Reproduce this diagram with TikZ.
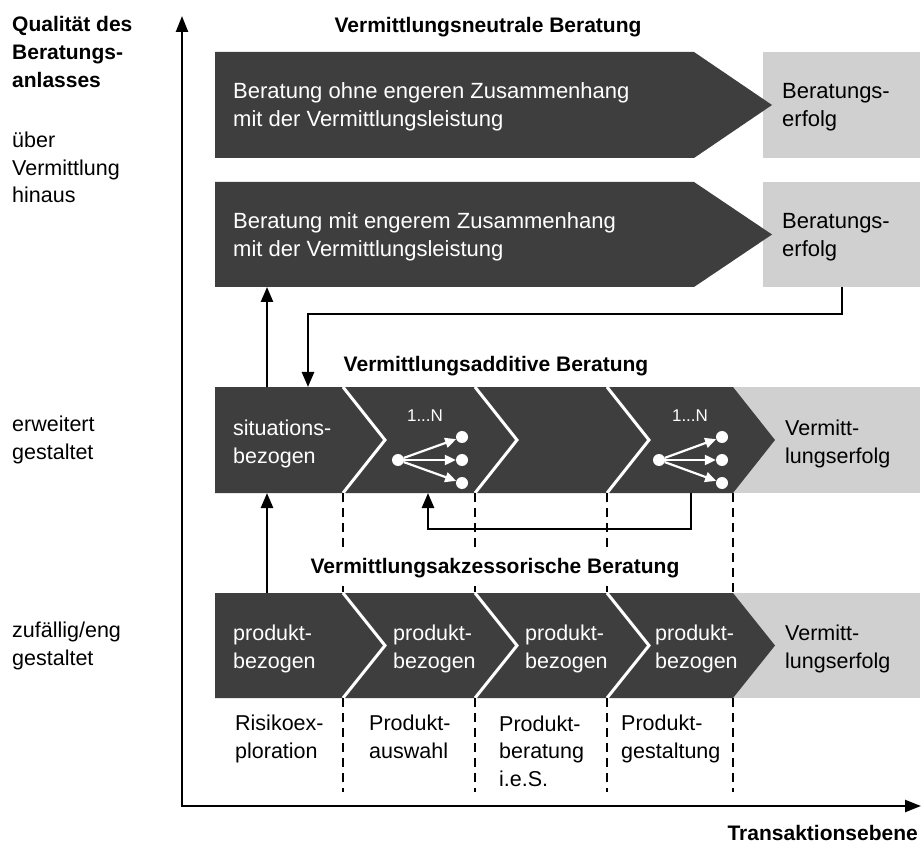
\documentclass[tikz,border=0pt]{standalone}
\usepackage{fontspec}
\setmainfont{Liberation Sans}
\usetikzlibrary{arrows.meta}
\definecolor{boxdark}{RGB}{62,62,62}
\definecolor{boxlight}{RGB}{208,208,208}
\begin{document}
\begin{tikzpicture}[x=1pt,y=-1pt,
  % multi-line texts are anchored at the baseline of their last line
  txt/.style={inner sep=0pt, anchor=base west, align=left, font=\fontsize{21.5}{27.5}\selectfont},
  bigtxt/.style={txt, font=\fontsize{22}{28}\selectfont},
  wtxt/.style={txt, text=white},
  headlbl/.style={inner sep=0pt, anchor=base, font=\bfseries\fontsize{21}{28}\selectfont},
  axislbl/.style={inner sep=0pt, anchor=base west, align=left, font=\bfseries\fontsize{21}{28}\selectfont},
  sep/.style={draw=white, line width=3pt, line join=miter},
  conn/.style={draw=black, line width=2.5pt, -{Triangle[length=15pt,width=12pt]}},
  phase/.style={draw=black, line width=2.6pt, dash pattern=on 9pt off 6pt},
  fanarrow/.style={draw=white, line width=2.2pt, -{Triangle[length=11pt,width=10pt]}},
  dot/.style={circle, fill=white, inner sep=0pt, minimum size=12pt},
  countlbl/.style={inner sep=0pt, anchor=base, text=white, font=\fontsize{17}{20}\selectfont},
  ]
\useasboundingbox (0,0) rectangle (922,845);

% ---------- axes ----------
\coordinate (ytop) at (182,16);
\coordinate (origin) at (182,806);
\coordinate (xend) at (921,806);
\draw[line width=2.4pt, {Triangle[length=16pt,width=12pt]}-{Triangle[length=16pt,width=12pt]}]
  (ytop) -- (origin) -- (xend);

% ---------- row 1: neutral advice ----------
\fill[boxlight] (763,52) rectangle (920,158);
\fill[boxdark] (215,52) -- (694,52) -- (772,105) -- (694,158) -- (215,158) -- cycle;
\node[bigtxt, text=white] (t1) at (233,127) {Beratung ohne engeren Zusammenhang\\mit der Vermittlungsleistung};
\node[bigtxt] (e1) at (782,127) {Beratungs-\\erfolg};

% ---------- row 2 ----------
\fill[boxlight] (763,182) rectangle (920,287);
\fill[boxdark] (215,182) -- (694,182) -- (772,234.5) -- (694,287) -- (215,287) -- cycle;
\node[bigtxt, text=white] (t2) at (233,257) {Beratung mit engerem Zusammenhang\\mit der Vermittlungsleistung};
\node[bigtxt] (e2) at (782,257) {Beratungs-\\erfolg};

% ---------- row 3: additive advice ----------
\fill[boxlight] (733,387) rectangle (920,493);
\fill[boxdark] (215,387) -- (733,387) -- (775,440) -- (733,493) -- (215,493) -- cycle;
\foreach \b in {343,475,607}
  \draw[sep] (\b,387) -- (\b+42,440) -- (\b,493);
\node[wtxt] (s1) at (233,463) {situations-\\bezogen};
\node[txt] (e3) at (785,463) {Vermitt-\\lungserfolg};

% fan icons
\node[countlbl] (n1) at (425,421) {1...N};
\node[dot] (f1s) at (398,460) {};
\node[dot] (f1a) at (462,437) {};
\node[dot] (f1b) at (462,460) {};
\node[dot] (f1c) at (462,483) {};
\draw[fanarrow] (f1s) -- (f1a);
\draw[fanarrow] (f1s) -- (f1b);
\draw[fanarrow] (f1s) -- (f1c);

\node[countlbl] (n2) at (690,421) {1...N};
\node[dot] (f2s) at (659,460) {};
\node[dot] (f2a) at (722,437) {};
\node[dot] (f2b) at (722,460) {};
\node[dot] (f2c) at (722,483) {};
\draw[fanarrow] (f2s) -- (f2a);
\draw[fanarrow] (f2s) -- (f2b);
\draw[fanarrow] (f2s) -- (f2c);

% ---------- row 4: accessory advice ----------
\fill[boxlight] (733,593) rectangle (920,698);
\fill[boxdark] (215,593) -- (733,593) -- (775,645.5) -- (733,698) -- (215,698) -- cycle;
\foreach \b in {343,475,607}
  \draw[sep] (\b,593) -- (\b+42,645.5) -- (\b,698);
\node[wtxt] (p1) at (233,668) {produkt-\\bezogen};
\node[wtxt] (p2) at (393,668) {produkt-\\bezogen};
\node[wtxt] (p3) at (525,668) {produkt-\\bezogen};
\node[wtxt] (p4) at (655,668) {produkt-\\bezogen};
\node[txt] (e4) at (785,668) {Vermitt-\\lungserfolg};

% phase boundaries
\foreach \b in {343,475,607,733} {
  \draw[phase] (\b,493) -- (\b,593);
  \draw[phase] (\b,698) -- (\b,792);
}

% phase names
\node[txt] (ph1) at (235,758) {Risikoex-\\ploration};
\node[txt] (ph2) at (369,758) {Produkt-\\auswahl};
\node[txt] (ph3) at (499,786) {Produkt-\\beratung\\i.e.S.};
\node[txt] (ph4) at (621,758) {Produkt-\\gestaltung};

% ---------- connectors ----------
\coordinate (r2out) at (842,287);
\coordinate (bendA) at (842,314);
\coordinate (bendB) at (308,314);
\coordinate (r3in) at (308,387);
\draw[conn] (r2out) -- (bendA) -- (bendB) -- (r3in);

\coordinate (r3top) at (267,387);
\coordinate (r2bot) at (267,287);
\draw[conn] (r3top) -- (r2bot);

\coordinate (r4top) at (267,593);
\coordinate (r3bot) at (267,493);
\draw[conn] (r4top) -- (r3bot);

\coordinate (lpA) at (691,493);
\coordinate (lpB) at (691,529);
\coordinate (lpC) at (428,529);
\coordinate (lpD) at (428,493);
\draw[conn] (lpA) -- (lpB) -- (lpC) -- (lpD);

% ---------- headings ----------
\node[headlbl] (h1) at (488,33) {Vermittlungsneutrale Beratung};
\node[headlbl] (h2) at (496,372) {Vermittlungsadditive Beratung};
\node[headlbl, fill=white, inner xsep=3pt, inner ysep=9pt] (h3) at (495,573) {Vermittlungsakzessorische Beratung};
\node[headlbl, anchor=base east] (xl) at (918,840) {Transaktionsebene};

% ---------- y-axis labels ----------
\node[axislbl] (yl) at (12,88) {Qualität des\\Beratungs-\\anlasses};
\node[txt] (q1) at (12,203) {über\\Vermittlung\\hinaus};
\node[txt] (q2) at (12,459) {erweitert\\gestaltet};
\node[txt] (q3) at (12,665) {zufällig/eng\\gestaltet};
\end{tikzpicture}
\end{document}
